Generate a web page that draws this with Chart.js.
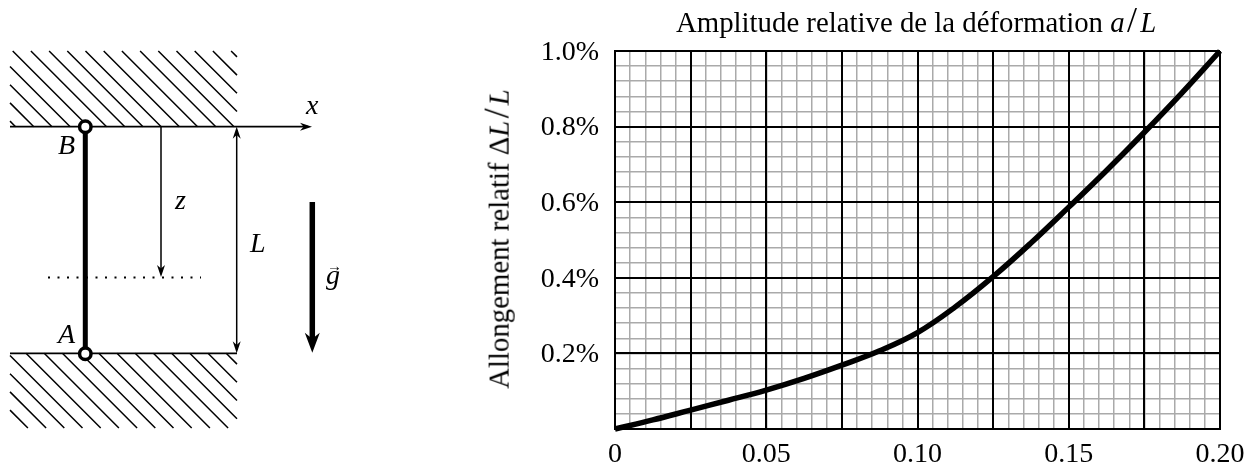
<!DOCTYPE html>
<html>
<head>
<meta charset="utf-8">
<script src="https://cdn.jsdelivr.net/npm/chart.js@4"></script>
<style>
  html, body { margin: 0; padding: 0; background: #fff; }
  body { width: 1257px; height: 467px; position: relative; overflow: hidden; font-family: "Liberation Serif", serif; color: #000; }
  canvas { position: absolute; top: 0; }
  .lbl { position: absolute; white-space: nowrap; line-height: 1; font-size: 28px; }
  .lbl i { font-style: italic; }
  .sl { font-size: 36px; line-height: 0; margin: 0 3px 0 2.5px; }
</style>
</head>
<body>
<canvas id="schema" width="420" height="467" style="left:0"></canvas>
<canvas id="graph" width="837" height="467" style="left:420px"></canvas>

<div class="lbl" style="left:676px;top:8px;font-size:28.8px">Amplitude relative de la déformation <i>a</i><span class="sl">/</span><i>L</i></div>
<div class="lbl" style="left:499px;top:239px;font-size:28.8px;transform:translate(-50%,-50%) rotate(-90deg)">Allongement relatif Δ<i>L</i><span class="sl">/</span><i>L</i></div>
<div class="lbl" style="left:306px;top:91px"><i>x</i></div>
<div class="lbl" style="left:58px;top:131px"><i>B</i></div>
<div class="lbl" style="left:58px;top:320px"><i>A</i></div>
<div class="lbl" style="left:175px;top:186px"><i>z</i></div>
<div class="lbl" style="left:250px;top:229px"><i>L</i></div>
<div class="lbl" style="left:326px;top:261px"><i>g</i></div>
<div class="lbl" style="left:327px;top:259px;font-size:15px">→</div>

<script>
// courbe : amplitude a/L -> allongement dL/L (%)
var amplitude = [0, 0.0125, 0.025, 0.0375, 0.05, 0.0625, 0.075, 0.0875, 0.1, 0.1125, 0.125, 0.1375, 0.15, 0.1625, 0.175, 0.1875, 0.2];
var allongement = [0, 0.024, 0.05, 0.076, 0.103, 0.134, 0.169, 0.207, 0.255, 0.323, 0.403, 0.492, 0.587, 0.684, 0.785, 0.89, 1.0];
var xTickLabels = ['0', '0.05', '0.10', '0.15', '0.20'];
var yTickLabels = ['', '0.2%', '0.4%', '0.6%', '0.8%', '1.0%'];

var tickFont = { family: 'Liberation Serif', size: 28 };
var points = amplitude.map(function (a, i) { return { x: a, y: allongement[i] }; });

new Chart(document.getElementById('graph').getContext('2d'), {
  type: 'line',
  data: {
    datasets: [{
      data: points,
      borderColor: '#000',
      borderWidth: 5.5,
      pointRadius: 0,
      tension: 0.4,
      clip: 5
    }]
  },
  options: {
    responsive: false,
    animation: false,
    layout: { padding: { top: 51, right: 37 } },
    plugins: { legend: { display: false }, tooltip: { enabled: false } },
    scales: {
      x: {
        type: 'linear', min: 0, max: 0.2,
        border: { color: '#000', width: 2 },
        grid: { color: '#000', lineWidth: 2, drawTicks: false, z: -2 },
        ticks: {
          stepSize: 0.025, autoSkip: false, maxRotation: 0, padding: 9, color: '#000', font: tickFont,
          callback: function (v, i) { return i % 2 === 0 ? xTickLabels[i / 2] : ''; }
        },
        afterFit: function (s) { s.height = 38; }
      },
      y: {
        type: 'linear', min: 0, max: 1,
        border: { color: '#000', width: 2 },
        grid: { color: '#000', lineWidth: 2, drawTicks: false, z: -2 },
        ticks: {
          stepSize: 0.2, autoSkip: false, padding: 16, labelOffset: 1.5, color: '#000', font: tickFont,
          callback: function (v, i) { return yTickLabels[i]; }
        },
        afterFit: function (s) { s.width = 195; }
      },
      xMinor: {
        type: 'linear', position: 'bottom', min: 0, max: 0.2,
        border: { display: false },
        grid: { color: '#aaaaaa', lineWidth: 1.5, drawTicks: false, z: -3 },
        ticks: { display: false, stepSize: 0.005, autoSkip: false, maxTicksLimit: 100 },
        afterFit: function (s) { s.height = 0; }
      },
      yMinor: {
        type: 'linear', position: 'left', min: 0, max: 1,
        border: { display: false },
        grid: { color: '#aaaaaa', lineWidth: 1.5, drawTicks: false, z: -3 },
        ticks: { display: false, stepSize: 0.04, autoSkip: false, maxTicksLimit: 100 },
        afterFit: function (s) { s.width = 0; }
      }
    }
  }
});

// schema de la tige entre les deux parois
var hatchTop = [51, 126.7];
var hatchBottom = [353.3, 428];
var hatchLeft = 10, hatchRight = 237, hatchStep = 18.2;
var rod = [{ x: 85.3, y: 126.7 }, { x: 85.3, y: 353.8 }];
var axisX = [{ x: 10, y: 126.7 }, { x: 308, y: 126.7 }];
var floorLine = [{ x: 10, y: 353.3 }, { x: 237, y: 353.3 }];
var arrowL = [{ x: 236.7, y: 130 }, { x: 236.7, y: 350 }];
var arrowZ = [{ x: 161, y: 126.7 }, { x: 161, y: 273 }];
var dotted = [{ x: 48, y: 277.5 }, { x: 201, y: 277.5 }];
var arrowG = [{ x: 312.3, y: 202 }, { x: 312.3, y: 340 }];

// segments a 45 degres coupes au bord du rectangle
function hatch(band, anchor) {
  var segs = [];
  var c = anchor;
  while (band[1] + c > hatchLeft) c -= hatchStep;
  for (; band[0] + c < hatchRight; c += hatchStep) {
    var x0 = Math.max(hatchLeft, band[0] + c);
    var x1 = Math.min(hatchRight, band[1] + c);
    if (x1 <= x0) continue;
    segs.push({ x: x0, y: x0 - c }, { x: x1, y: x1 - c }, { x: NaN, y: NaN });
  }
  return segs;
}

function thin(data, width, dash) {
  return { data: data, borderColor: '#000', borderWidth: width, borderDash: dash || [], pointRadius: 0, spanGaps: false };
}

// pointes de fleche : [x, y, direction, longueur, demi-largeur]
var heads = [
  [312, 126.7, 'right', 12, 4],
  [236.7, 126.7, 'up', 12, 4],
  [236.7, 353.3, 'down', 12, 4],
  [161, 277, 'down', 12, 4],
  [312.3, 352.7, 'down', 20, 7.5]
];
var dirs = { right: [1, 0], up: [0, -1], down: [0, 1] };

var arrowHeads = {
  id: 'arrowHeads',
  afterDatasetsDraw: function (chart) {
    var c = chart.ctx, sx = chart.scales.x, sy = chart.scales.y;
    c.save();
    c.fillStyle = '#000';
    heads.forEach(function (h) {
      var d = dirs[h[2]], px = sx.getPixelForValue(h[0]), py = sy.getPixelForValue(h[1]);
      var nx = -d[1], ny = d[0], L = h[3], w = h[4];
      c.beginPath();
      c.moveTo(px, py);
      c.lineTo(px - d[0] * L + nx * w, py - d[1] * L + ny * w);
      c.lineTo(px - d[0] * L * 0.7, py - d[1] * L * 0.7);
      c.lineTo(px - d[0] * L - nx * w, py - d[1] * L - ny * w);
      c.closePath();
      c.fill();
    });
    c.restore();
  }
};

new Chart(document.getElementById('schema').getContext('2d'), {
  type: 'line',
  data: {
    // chart.js dessine le premier dataset en dernier
    datasets: [
      {
        data: rod, showLine: false, pointRadius: 5.75, pointBorderWidth: 3.5,
        pointBackgroundColor: '#fff', pointBorderColor: '#000'
      },
      thin(rod, 5),
      thin(arrowG, 5.5),
      thin(dotted, 2, [2, 7.5]),
      thin(arrowZ, 1.5),
      thin(arrowL, 1.5),
      thin(floorLine, 1.7),
      thin(axisX, 1.7),
      thin(hatch(hatchBottom, -327.3), 1.5),
      thin(hatch(hatchTop, -20.1), 1.5)
    ]
  },
  options: {
    responsive: false,
    animation: false,
    layout: { autoPadding: false },
    plugins: { legend: { display: false }, tooltip: { enabled: false } },
    scales: {
      x: { type: 'linear', display: false, min: 0, max: 420 },
      y: { type: 'linear', display: false, min: 0, max: 467, reverse: true }
    }
  },
  plugins: [arrowHeads]
});
</script>
</body>
</html>
